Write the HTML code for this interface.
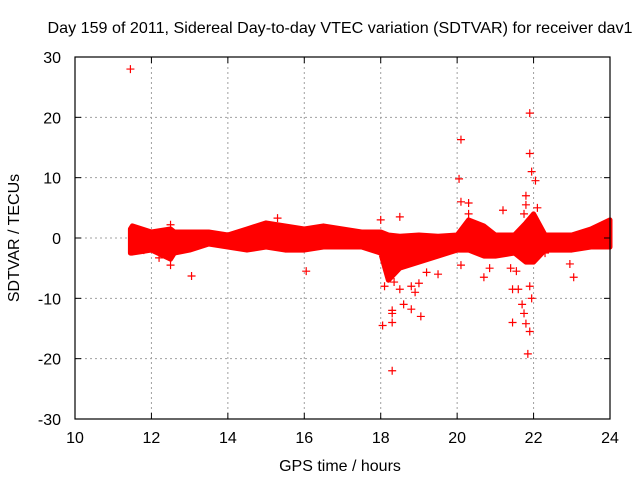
<!DOCTYPE html>
<html><head><meta charset="utf-8"><style>
body{margin:0;background:#fff;}
svg{display:block;font-family:"Liberation Sans",sans-serif;}
</style></head><body>
<svg id="c" width="640" height="480">
<text x="340" y="33" font-size="16" text-anchor="middle" fill="#000" textLength="585" lengthAdjust="spacingAndGlyphs">Day 159 of 2011, Sidereal Day-to-day VTEC variation (SDTVAR) for receiver dav1</text>
<text x="340" y="471" font-size="16" text-anchor="middle">GPS time / hours</text>
<text transform="translate(19,238) rotate(-90)" font-size="16" text-anchor="middle">SDTVAR / TECUs</text>
<g id="grid"></g><g id="band"></g><g id="pts"></g><g id="axes"></g>
</svg>
<script>
const xTicks=[10,12,14,16,18,20,22,24];
const yTicks=[-30,-20,-10,0,10,20,30];
const bandT=[11.45,11.5,12,12.5,12.6,13,13.5,14,14.5,15,15.5,16,16.5,17,17.5,18,18.2,18.5,19,19.5,20,20.3,20.7,21,21.5,21.8,22,22.3,23,23.5,24];
const bandHi=[1.5,2,1,1.5,1,1,1,0.5,1.5,2.5,2,1.5,2,1.5,1,1,0.5,0.3,0.5,0.3,0.5,3,2,0.5,0.5,2.5,4,0.5,0.5,1.5,3];
const bandLo=[-2.5,-2.5,-2,-3.5,-2.5,-2,-1,-1.5,-2,-1.5,-2,-2,-1.5,-1.5,-1.5,-2.5,-7,-5,-4,-3,-2,-2,-3,-3,-2.5,-4,-4,-2,-2,-1.5,-1.5];
const outT=[11.45,20.1,21.9,21.9,21.95,22.05,20.05,21.2,20.1,20.3,20.3,18.5,18,15.3,18.3,18.05,18.3,18.3,18.3,18.6,18.8,19.05,18.9,18.8,18.5,18.1,21.45,21.8,21.75,21.9,21.85,21.95,21.9,21.6,21.45,21.55,21.4,22.3,22.95,23.05,16.05,13.05,12.2,12.5,11.8,12.5,20.85,19.5,19.2,20.1,21.8,21.8,21.75,21.9,20.7,18.35,18.6,19.0,22.1,21.7];
const outV=[28,16.3,20.7,14,11,9.5,9.8,4.6,6,5.8,4,3.5,3,3.3,-22,-14.5,-14,-12.5,-12,-11,-11.8,-13,-9,-8,-8.5,-8,-14,-14.2,-12.5,-15.5,-19.2,-10,-8,-8.5,-8.5,-5.5,-5,-2.5,-4.3,-6.5,-5.5,-6.3,-3.3,-4.5,-2,2.2,-5,-6,-5.7,-4.5,7,5.5,4,1.8,-6.5,-7.3,-3,-7.5,5,-11];
const L=75,R=610,T=57,B=419;
const X=v=>L+(v-10)/14*(R-L), Y=v=>B-(v+30)/60*(B-T);
const NS='http://www.w3.org/2000/svg';
function mk(t,a,p){const e=document.createElementNS(NS,t);for(const k in a)e.setAttribute(k,a[k]);p.appendChild(e);return e;}
const grid=document.getElementById('grid'),axes=document.getElementById('axes');
xTicks.forEach(v=>{
 if(v>10&&v<24){const g=mk('line',{x1:X(v),x2:X(v),y1:T,y2:B,stroke:'#a0a0a0','stroke-dasharray':'2,3'},grid);
 
 }
 mk('line',{x1:X(v),x2:X(v),y1:B,y2:B-6,stroke:'#000'},axes);
 mk('line',{x1:X(v),x2:X(v),y1:T,y2:T+6,stroke:'#000'},axes);
 const t=mk('text',{x:X(v),y:B+24,'font-size':16,'text-anchor':'middle'},axes);t.textContent=v;
 
 
});
yTicks.forEach(v=>{
 if(v>-30&&v<30){const g=mk('line',{x1:L,x2:R,y1:Y(v),y2:Y(v),stroke:'#a0a0a0','stroke-dasharray':'2,3'},grid);
 
 }
 mk('line',{x1:L,x2:L+6,y1:Y(v),y2:Y(v),stroke:'#000'},axes);
 mk('line',{x1:R,x2:R-6,y1:Y(v),y2:Y(v),stroke:'#000'},axes);
 const t=mk('text',{x:L-14,y:Y(v)+6,'font-size':16,'text-anchor':'end'},axes);t.textContent=v;
 
 
});
const fr=mk('rect',{x:L,y:T,width:R-L,height:B-T,fill:'none',stroke:'#000','stroke-width':1.2},axes);


let d='M'+bandT.map((t,i)=>X(t)+','+Y(bandHi[i])).join('L');
for(let i=bandT.length-1;i>=0;i--)d+='L'+X(bandT[i])+','+Y(bandLo[i]);
const bp=mk('path',{d:d+'Z',fill:'#f00',stroke:'#f00','stroke-width':5,'stroke-linejoin':'round'},document.getElementById('band'));


const pts=document.getElementById('pts');
outT.forEach((t,i)=>{
 const x=X(t),y=Y(outV[i]);
 const p=mk('path',{d:`M${x-4},${y}H${x+4}M${x},${y-4}V${y+4}`,stroke:'#f00','stroke-width':1.2},pts);
 
 
});
</script>
</body></html>
